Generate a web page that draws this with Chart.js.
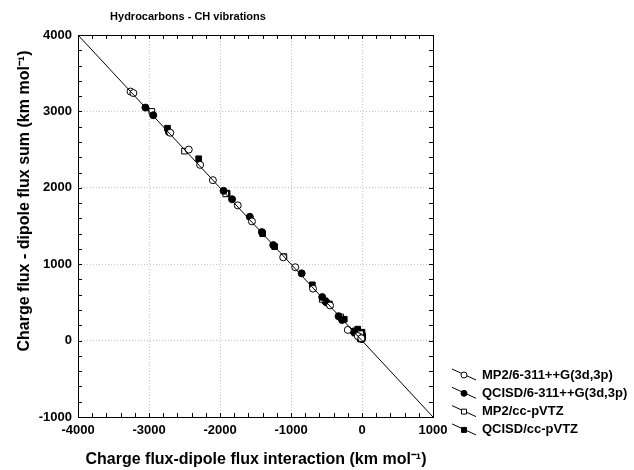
<!DOCTYPE html>
<html>
<head>
<meta charset="utf-8">
<script src="https://cdn.jsdelivr.net/npm/chart.js@4/dist/chart.umd.min.js"></script>
<style>
body { margin: 0; background: #fff; }
#wrap { width: 634px; height: 470px; position: relative; }
</style>
</head>
<body>
<div id="wrap"><canvas id="chart"></canvas></div>
<script>
const chartTitle = 'Hydrocarbons - CH vibrations';
const xTitle = 'Charge flux-dipole flux interaction (km mol\u207B\u00B9)';
const yTitle = 'Charge flux - dipole flux sum (km mol\u207B\u00B9)';
const seriesNames = ['MP2/6-311++G(3d,3p)', 'QCISD/6-311++G(3d,3p)', 'MP2/cc-pVTZ', 'QCISD/cc-pVTZ'];

// axis range
const xMin = -4000, xMax = 1000;
const yMin = -1000, yMax = 4000;

// MP2/6-311++G(3d,3p) - open circles
const mp2PopleX = [-3260, -3220, -2700, -2440, -2280, -2100, -1750, -1550, -1110, -940, -690, -450, -200, -60, -10];
const mp2PopleY = [3260, 3240, 2720, 2500, 2300, 2100, 1770, 1560, 1090, 960, 680, 460, 140, 60, 30];
// QCISD/6-311++G(3d,3p) - filled circles
const qciPopleX = [-3050, -2940, -2720, -1950, -1830, -1580, -1410, -1250, -850, -560, -500, -330, -280, -120, -40, 0];
const qciPopleY = [3050, 2950, 2730, 1960, 1850, 1620, 1420, 1250, 880, 570, 500, 320, 270, 120, 50, 20];
// MP2/cc-pVTZ - open squares
const mp2DunX = [-2960, -2500, -1920, -1100, -560, -300, -20];
const mp2DunY = [3000, 2480, 1920, 1100, 540, 310, 90];
// QCISD/cc-pVTZ - filled squares
const qciDunX = [-2740, -2300, -1900, -1400, -1230, -700, -520, -460, -250, -100, -60, -30, 0, 10, -20];
const qciDunY = [2780, 2380, 1930, 1400, 1230, 730, 520, 480, 280, 100, 150, 40, 110, 60, 20];

// reference line y = -x
const lineX = [-4000, 1000];
const lineY = [4000, -1000];

function pts(xs, ys) {
    return xs.map((x, i) => ({x: x, y: ys[i]}));
}

const styles = [
    {pointStyle: 'circle', fill: '#fff', radius: 3.5},
    {pointStyle: 'circle', fill: '#000', radius: 3.5},
    {pointStyle: 'rect', fill: '#fff', radius: 4},
    {pointStyle: 'rect', fill: '#000', radius: 4}
];
const seriesData = [pts(mp2PopleX, mp2PopleY), pts(qciPopleX, qciPopleY), pts(mp2DunX, mp2DunY), pts(qciDunX, qciDunY)];

const datasets = [{
    type: 'line',
    data: pts(lineX, lineY),
    borderColor: '#000',
    borderWidth: 1,
    pointRadius: 0,
    fill: false
}];
seriesData.forEach((d, i) => {
    datasets.push({
        type: 'scatter',
        label: seriesNames[i],
        data: d,
        pointStyle: styles[i].pointStyle,
        pointRadius: styles[i].radius,
        backgroundColor: styles[i].fill,
        borderColor: '#000',
        borderWidth: 1
    });
});

const font = 'Liberation Sans, Arial, sans-serif';

// frame, inward minor ticks, titles and legend
const decor = {
    id: 'decor',
    afterDraw(chart) {
        const ctx = chart.ctx;
        const a = chart.chartArea;
        const xs = chart.scales.x, ys = chart.scales.y;
        ctx.save();
        ctx.strokeStyle = '#000';
        ctx.lineWidth = 1;
        ctx.strokeRect(Math.round(a.left) + 0.5, Math.round(a.top) + 0.5,
            Math.round(a.right - a.left), Math.round(a.bottom - a.top));
        ctx.beginPath();
        for (let v = xMin; v <= xMax; v += 200) {
            const p = Math.round(xs.getPixelForValue(v)) + 0.5;
            ctx.moveTo(p, a.top); ctx.lineTo(p, a.top + 4);
            ctx.moveTo(p, a.bottom); ctx.lineTo(p, a.bottom - 4);
        }
        for (let v = yMin; v <= yMax; v += 200) {
            const p = Math.round(ys.getPixelForValue(v)) + 0.5;
            ctx.moveTo(a.left, p); ctx.lineTo(a.left + 4, p);
            ctx.moveTo(a.right, p); ctx.lineTo(a.right - 4, p);
        }
        ctx.stroke();

        ctx.fillStyle = '#000';
        ctx.textAlign = 'center';
        ctx.textBaseline = 'middle';
        ctx.font = 'bold 11px ' + font;
        ctx.fillText(chartTitle, 188, 17);

        ctx.font = 'bold 16px ' + font;
        ctx.fillText(xTitle, 256, 460);
        ctx.save();
        ctx.translate(25, 201);
        ctx.rotate(-Math.PI / 2);
        ctx.fillText(yTitle, 0, 0);
        ctx.restore();

        // legend
        ctx.font = 'bold 13px ' + font;
        ctx.textAlign = 'left';
        seriesNames.forEach((name, i) => {
            const y = 375 + i * 18.3;
            ctx.beginPath();
            ctx.moveTo(452, y - 6);
            ctx.lineTo(476, y + 5);
            ctx.stroke();
            ctx.fillStyle = styles[i].fill;
            ctx.strokeStyle = '#000';
            Chart.helpers.drawPoint(ctx, {pointStyle: styles[i].pointStyle, radius: styles[i].radius - 0.5, rotation: 0, borderWidth: 1}, 464, y);
            ctx.fillStyle = '#000';
            ctx.fillText(name, 482, y);
        });
        ctx.restore();
    }
};

const plainTick = (v) => String(v);

new Chart(document.getElementById('chart'), {
    data: {datasets: datasets},
    options: {
        responsive: true,
        maintainAspectRatio: false,
        animation: false,
        layout: {padding: {top: 35, right: 201, left: 0, bottom: 0}},
        plugins: {legend: {display: false}, title: {display: false}, tooltip: {enabled: false}},
        scales: {
            x: {
                type: 'linear', min: xMin, max: xMax,
                afterFit(scale) { scale.height = 53; },
                ticks: {stepSize: 1000, color: '#000', padding: 6, callback: plainTick, font: {family: font, size: 13, weight: 'bold'}},
                grid: {color: '#c4c4c4', drawTicks: false},
                border: {display: false, dash: [1, 2]}
            },
            y: {
                type: 'linear', min: yMin, max: yMax,
                afterFit(scale) { scale.width = 78; },
                ticks: {stepSize: 1000, color: '#000', padding: 6, callback: plainTick, font: {family: font, size: 13, weight: 'bold'}},
                grid: {color: '#c4c4c4', drawTicks: false},
                border: {display: false, dash: [1, 2]}
            }
        }
    },
    plugins: [decor]
});
</script>
</body>
</html>
